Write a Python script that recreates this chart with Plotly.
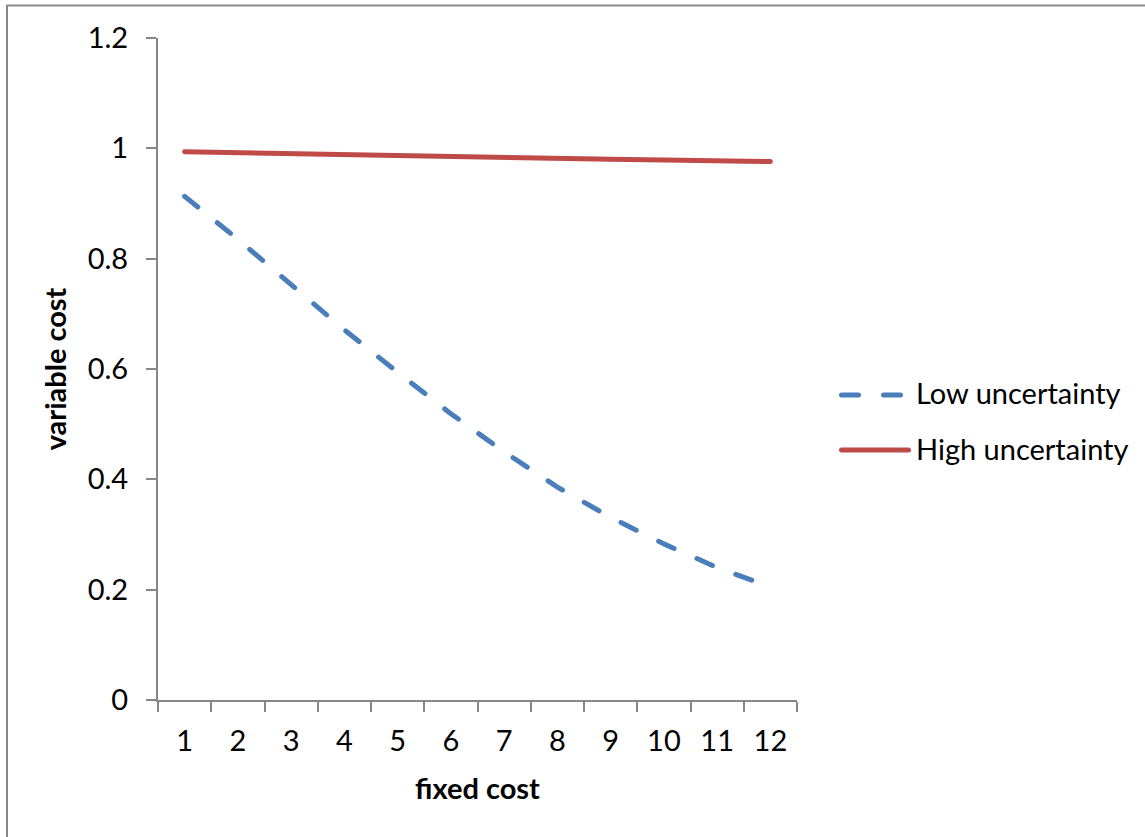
import plotly.graph_objects as go

# Fixed-cost levels on the category axis
fixed_cost = ["1", "2", "3", "4", "5", "6", "7", "8", "9", "10", "11", "12"]

# Variable cost for the two uncertainty scenarios
low_uncertainty = [0.913, 0.835, 0.753, 0.671, 0.594, 0.519,
                   0.450, 0.386, 0.331, 0.283, 0.240, 0.205]
high_uncertainty = [0.994, 0.992, 0.990, 0.988, 0.987, 0.985,
                    0.984, 0.982, 0.980, 0.979, 0.977, 0.976]

series_names = ["Low uncertainty", "High uncertainty"]

BLUE = "#4A7EBB"
RED = "#BE4B48"
GRAY = "#878787"
FONT = "Lato"
FS = 29

W, H = 1145, 837
ML, MR, MT, MB = 158, 348, 38, 137
PW, PH = W - ML - MR, H - MT - MB


def px_to_paper(x, y):
    return (x - ML) / PW, (H - MB - y) / PH


fig = go.Figure()
fig.add_trace(go.Scatter(
    x=fixed_cost, y=low_uncertainty, name=series_names[0], mode="lines",
    line=dict(color=BLUE, width=5, dash="17px,25px"),
))
fig.add_trace(go.Scatter(
    x=fixed_cost, y=high_uncertainty, name=series_names[1], mode="lines",
    line=dict(color=RED, width=5),
))

# Outer chart frame
bx0, by0 = px_to_paper(7, 5.5)
bx1, by1 = px_to_paper(1160, 850)
shapes = [dict(type="rect", xref="paper", yref="paper",
               x0=bx0, y0=by1, x1=bx1, y1=by0,
               line=dict(color=GRAY, width=2), layer="below")]

# Hand-drawn legend: line samples plus labels
legend_rows = [(395, BLUE, "17px,25px"), (450, RED, "solid")]
annotations = []
for (ly, col, dash), name in zip(legend_rows, series_names):
    x0, yy = px_to_paper(841.5, ly)
    x1, _ = px_to_paper(908.5, ly)
    shapes.append(dict(type="line", xref="paper", yref="paper",
                       x0=x0, x1=x1, y0=yy, y1=yy,
                       line=dict(color=col, width=5, dash=dash)))
    tx, ty = px_to_paper(914, ly - 2)
    annotations.append(dict(xref="paper", yref="paper", x=tx, y=ty,
                            text=name, showarrow=False, xanchor="left",
                            yanchor="middle",
                            font=dict(family=FONT, size=FS, color="black")))

fig.update_layout(
    width=W, height=H,
    margin=dict(l=ML, r=MR, t=MT, b=MB, pad=0),
    paper_bgcolor="white", plot_bgcolor="white",
    showlegend=False,
    font=dict(family=FONT, size=FS, color="black"),
    shapes=shapes,
    annotations=annotations,
)

fig.update_xaxes(
    type="category", range=[-0.5, 11.5], tickson="boundaries",
    showline=True, linecolor=GRAY, linewidth=2,
    ticks="outside", ticklen=10, tickcolor=GRAY, tickwidth=2,
    ticklabelstandoff=14,
    showgrid=False, zeroline=False,
    tickfont=dict(family=FONT, size=FS, color="black"),
    title=dict(text="<b>fixed cost</b>", standoff=23,
               font=dict(family=FONT, size=FS, color="black")),
)
fig.update_yaxes(
    range=[0, 1.2], dtick=0.2, tick0=0,
    showline=True, linecolor=GRAY, linewidth=2,
    ticks="outside", ticklen=10, tickcolor=GRAY, tickwidth=2,
    ticklabelstandoff=12,
    showgrid=False, zeroline=False,
    tickfont=dict(family=FONT, size=FS, color="black"),
    title=dict(text="<b>variable cost</b>", standoff=13,
               font=dict(family=FONT, size=FS, color="black")),
)

# Round line caps on the series and legend strokes
post = """
document.querySelectorAll('.scatterlayer path.js-line, .shapelayer path').forEach(function(p){
  p.style.strokeLinecap = 'round';
  p.style.strokeLinejoin = 'round';
});
"""

fig.write_html("out.html", post_script=post)
